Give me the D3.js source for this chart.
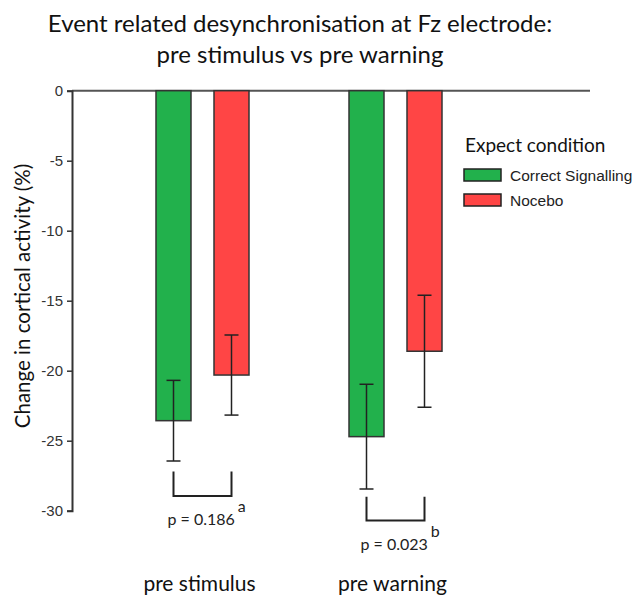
<!DOCTYPE html>
<html><head><meta charset="utf-8">
<script src="https://cdn.jsdelivr.net/npm/d3@7"></script>
<style>body{margin:0;background:#fff}</style>
</head><body>
<svg id="c" width="638" height="597"></svg>
<script>
const categories = ["pre stimulus", "pre warning"];
const series = ["Correct Signalling", "Nocebo"];
const colors = ["#22b14c", "#ff4545"];
const correctSignalling = [-23.57, -24.71];
const nocebo = [-20.31, -18.61];
const correctErr = [2.88, 3.74];
const noceboErr = [2.86, 4.0];
const yTicks = [0, -5, -10, -15, -20, -25, -30];
const pLabels = ["p = 0.186", "p = 0.023"];
const pSup = ["a", "b"];
const bracketTop = [-27.2, -29.0];
const bracketBottom = [-28.95, -30.7];

const svg = d3.select("#c");
const y = d3.scaleLinear().domain([0, -30]).range([90.7, 510.7]);
const x0 = d3.scaleBand().domain(categories).range([106, 492]).padding(0);
const x1 = d3.scaleBand().domain(series).range([50, 143]).paddingInner(23/58).paddingOuter(0);

const values = [correctSignalling, nocebo];
const errs = [correctErr, noceboErr];

// zero line
svg.append("line").attr("x1", 72).attr("x2", 590).attr("y1", y(0)).attr("y2", y(0))
  .attr("stroke", "#555").attr("stroke-width", 2);

// y axis
const yAxis = d3.axisLeft(y).tickValues(yTicks).tickSize(5).tickPadding(4).tickFormat(d => String(d));
const ga = svg.append("g").attr("transform", "translate(72,0)").call(yAxis);
ga.select(".domain").attr("stroke", "#333").attr("stroke-width", 2);
ga.selectAll(".tick line").attr("stroke", "#333").attr("stroke-width", 1.5);
ga.selectAll(".tick text").attr("font-family", "Liberation Sans, Arial, sans-serif").attr("font-size", 15).attr("fill", "#333");

// bars
categories.forEach((cat, i) => {
  series.forEach((s, j) => {
    const v = values[j][i], e = errs[j][i];
    const bx = x0(cat) + x1(s);
    const bw = x1.bandwidth();
    svg.append("rect").attr("x", bx).attr("y", y(0)).attr("width", bw).attr("height", y(v) - y(0))
      .attr("fill", colors[j]).attr("stroke", "#333").attr("stroke-width", 1.5);
    const cx = bx + bw / 2;
    const g = svg.append("g").attr("stroke", "#222").attr("stroke-width", 1.5);
    g.append("line").attr("x1", cx).attr("x2", cx).attr("y1", y(v + e)).attr("y2", y(v - e));
    g.append("line").attr("x1", cx - 7).attr("x2", cx + 7).attr("y1", y(v + e)).attr("y2", y(v + e));
    g.append("line").attr("x1", cx - 7).attr("x2", cx + 7).attr("y1", y(v - e)).attr("y2", y(v - e));
  });
  // bracket
  const xa = x0(cat) + x1(series[0]) + x1.bandwidth() / 2;
  const xb = x0(cat) + x1(series[1]) + x1.bandwidth() / 2;
  svg.append("path")
    .attr("d", `M${xa},${y(bracketTop[i])}V${y(bracketBottom[i])}H${xb}V${y(bracketTop[i])}`)
    .attr("fill", "none").attr("stroke", "#222").attr("stroke-width", 2);
  const ty = y(bracketBottom[i]) + 29;
  const pt = svg.append("text").attr("x", xa - 6).attr("y", ty)
    .attr("font-family", "Lato, sans-serif").attr("font-size", 16).attr("fill", "#222").text(pLabels[i]);
  const w = pt.node().getComputedTextLength();
  svg.append("text").attr("x", xa - 6 + w + 3).attr("y", ty - 13)
    .attr("font-family", "Lato, sans-serif").attr("font-size", 16).attr("fill", "#222").text(pSup[i]);
  // category label
  svg.append("text").attr("x", x0(cat) + x0.bandwidth() / 2 - 3).attr("y", 591).attr("text-anchor", "middle")
    .attr("font-family", "Lato, sans-serif").attr("font-size", 21).attr("fill", "#111").text(cat);
});

// title
const title = svg.append("text").attr("text-anchor", "middle").attr("font-family", "Lato, sans-serif")
  .attr("font-size", 24).attr("fill", "#111");
title.append("tspan").attr("x", 300).attr("y", 32).text("Event related desynchronisation at Fz electrode:");
title.append("tspan").attr("x", 300).attr("y", 63).text("pre stimulus vs pre warning");

// y label
svg.append("text").attr("transform", "translate(30,296) rotate(-90)").attr("text-anchor", "middle")
  .attr("font-family", "Lato, sans-serif").attr("font-size", 20.5).attr("fill", "#111")
  .text("Change in cortical activity (%)");

// legend
svg.append("text").attr("x", 465).attr("y", 152).attr("font-family", "Lato, sans-serif")
  .attr("font-size", 19).attr("fill", "#111").text("Expect condition");
series.forEach((s, j) => {
  const ly = 169 + j * 25;
  svg.append("rect").attr("x", 464).attr("y", ly).attr("width", 37).attr("height", 12)
    .attr("fill", colors[j]).attr("stroke", "#222").attr("stroke-width", 1.5);
  svg.append("text").attr("x", 510).attr("y", ly + 12).attr("font-family", "Liberation Sans, Arial, sans-serif")
    .attr("font-size", 15.5).attr("fill", "#222").text(s);
});
</script>
</body></html>
